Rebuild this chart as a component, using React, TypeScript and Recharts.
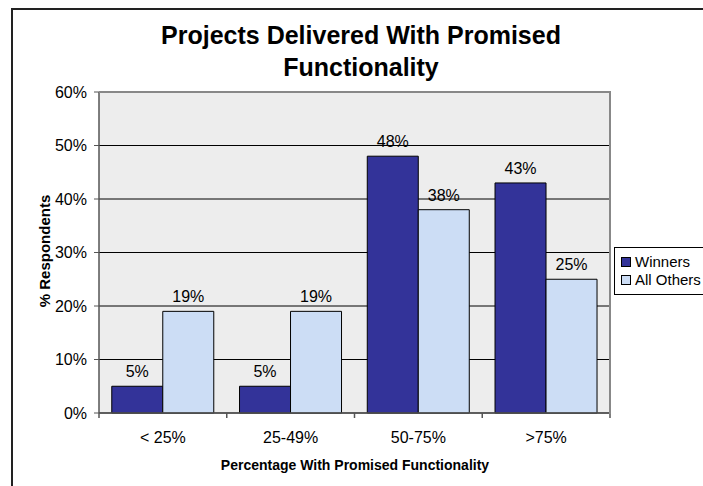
import { Bar, BarChart, CartesianGrid, LabelList, Legend, XAxis, YAxis } from "recharts";

const categories = ["< 25%", "25-49%", "50-75%", ">75%"];
const winners = [5, 5, 48, 43];
const allOthers = [19, 19, 38, 25];
const yTicks = [0, 10, 20, 30, 40, 50, 60];

const data = categories.map((range, i) => ({
  range,
  winners: winners[i],
  others: allOthers[i],
}));

const W = 703;
const H = 486;
const plot = { left: 99, top: 92, right: 610, bottom: 413 };
const halfBand = (plot.right - plot.left) / categories.length / 2;
const font = "'Liberation Sans', Arial, sans-serif";
const darkBlue = "#333399";
const lightBlue = "#CCDDF5";

function CategoryTick(props: any) {
  const { x, payload, index } = props;
  const y0 = plot.bottom;
  return (
    <g>
      <line x1={x - halfBand} x2={x - halfBand} y1={y0} y2={y0 + 5} stroke="#555" strokeWidth={1.5} />
      {index === categories.length - 1 && (
        <line x1={x + halfBand} x2={x + halfBand} y1={y0} y2={y0 + 5} stroke="#555" strokeWidth={1.5} />
      )}
      <text x={x} y={y0 + 30} textAnchor="middle" fontSize={16} fill="#000" fontFamily={font}>
        {payload.value}
      </text>
    </g>
  );
}

function XTitle() {
  return (
    <text x={355} y={470} textAnchor="middle" fontSize={14} fontWeight="bold" fill="#000" fontFamily={font}>
      Percentage With Promised Functionality
    </text>
  );
}

function YTitle() {
  return (
    <text
      transform="translate(50,251) rotate(-90)"
      textAnchor="middle"
      fontSize={15}
      fontWeight="bold"
      fill="#000"
      fontFamily={font}
    >
      % Respondents
    </text>
  );
}

function LegendBox() {
  const items = [
    { name: "Winners", color: darkBlue },
    { name: "All Others", color: lightBlue },
  ];
  return (
    <div
      style={{
        borderLeft: "1px solid #000",
        borderTop: "1px solid #000",
        borderBottom: "1px solid #000",
        background: "#fff",
        padding: "5px 0 5px 6px",
        fontFamily: font,
        fontSize: 15,
        lineHeight: "18px",
      }}
    >
      {items.map((it) => (
        <div key={it.name} style={{ display: "flex", alignItems: "center", whiteSpace: "nowrap" }}>
          <span
            style={{
              display: "inline-block",
              width: 8,
              height: 8,
              background: it.color,
              border: "1px solid #000",
              marginRight: 4,
            }}
          />
          {it.name}
        </div>
      ))}
    </div>
  );
}

export default function App() {
  return (
    <div
      style={{
        position: "fixed",
        left: 0,
        top: 0,
        width: W,
        height: H,
        overflow: "hidden",
        background: "#fff",
        fontFamily: font,
      }}
    >
      <style>{"html, body { overflow: hidden; margin: 0; }"}</style>
      <div
        style={{
          position: "absolute",
          left: 11,
          top: 8,
          width: W,
          height: H,
          borderLeft: "2px solid #222",
          borderTop: "2px solid #222",
        }}
      />
      <div
        style={{
          position: "absolute",
          left: 0,
          width: 722,
          top: 19,
          textAlign: "center",
          fontWeight: "bold",
          fontSize: 25,
          lineHeight: "32px",
          color: "#000",
        }}
      >
        Projects Delivered With Promised
        <br />
        Functionality
      </div>
      <BarChart
        width={W}
        height={H}
        data={data}
        margin={{ top: plot.top, right: W - plot.right, bottom: H - plot.bottom - 30, left: plot.left - 60 }}
        barCategoryGap="10%"
        barGap={0}
      >
        <CartesianGrid vertical={false} stroke="#000" fill="#EDEDED" fillOpacity={1} />
        <XAxis
          dataKey="range"
          height={30}
          axisLine={{ stroke: "#555", strokeWidth: 1.5 }}
          tickLine={false}
          tick={<CategoryTick />}
          interval={0}
          label={<XTitle />}
        />
        <YAxis
          width={60}
          domain={[0, 60]}
          ticks={yTicks}
          tickFormatter={(v: number) => `${v}%`}
          axisLine={{ stroke: "#555", strokeWidth: 1.5 }}
          tickLine={{ stroke: "#555" }}
          tickSize={5}
          tickMargin={7}
          tick={{ fontSize: 16, fill: "#000", fontFamily: font }}
          label={<YTitle />}
        />
        <Legend
          layout="vertical"
          align="center"
          verticalAlign="middle"
          content={() => <LegendBox />}
          wrapperStyle={{ position: "absolute", left: 614, top: 247, width: W - 614 }}
        />
        <Bar dataKey="winners" name="Winners" fill={darkBlue} stroke="#000" strokeWidth={1} isAnimationActive={false}>
          <LabelList dataKey="winners" position="top" offset={9} formatter={(v: any) => `${v}%`} fontSize={16} fill="#000" fontFamily={font} />
        </Bar>
        <Bar dataKey="others" name="All Others" fill={lightBlue} stroke="#000" strokeWidth={1} isAnimationActive={false}>
          <LabelList dataKey="others" position="top" offset={9} formatter={(v: any) => `${v}%`} fontSize={16} fill="#000" fontFamily={font} />
        </Bar>
      </BarChart>
      <div
        style={{
          position: "absolute",
          left: plot.left,
          top: plot.top - 1,
          width: plot.right - plot.left - 1,
          height: plot.bottom - plot.top,
          borderTop: "2px solid #888",
          borderRight: "2px solid #888",
          pointerEvents: "none",
        }}
      />
    </div>
  );
}
